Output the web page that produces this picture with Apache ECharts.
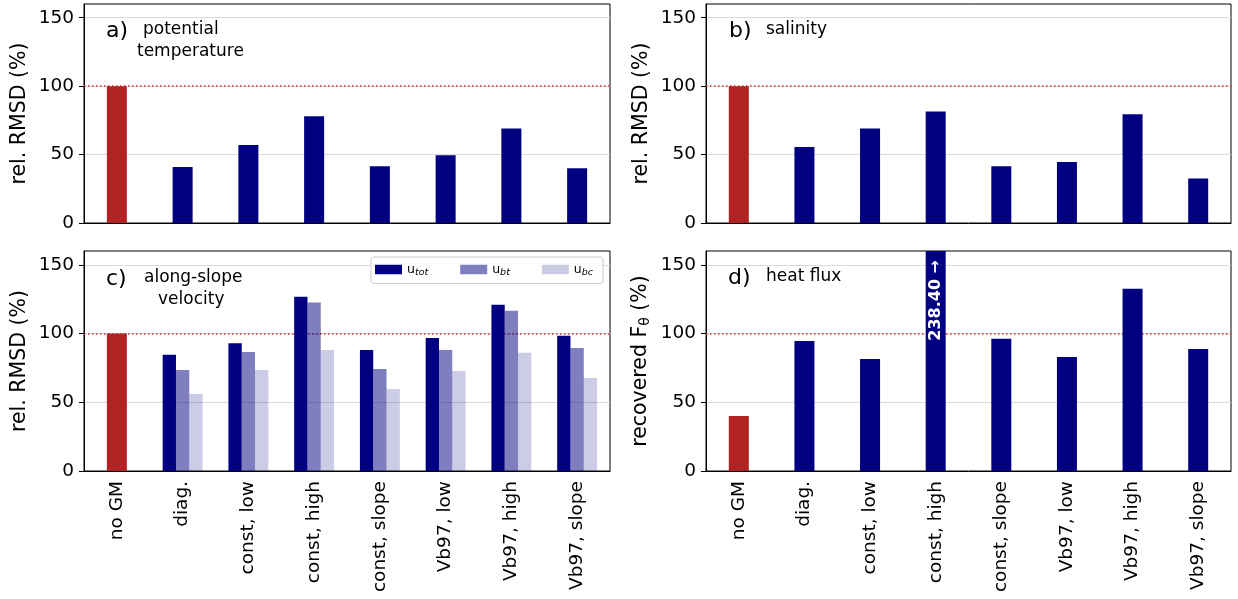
<!DOCTYPE html>
<html>
<head>
<meta charset="utf-8">
<script src="https://cdn.jsdelivr.net/npm/echarts@6/dist/echarts.min.js"></script>
<style>
  html, body { margin: 0; padding: 0; background: #fff; }
  #chart { width: 1238px; height: 599px; }
</style>
</head>
<body>
<div id="chart"></div>
<script>
// data (first entry = "no GM" reference run)
const categories = ['no GM', 'diag.', 'const, low', 'const, high', 'const, slope', 'Vb97, low', 'Vb97, high', 'Vb97, slope'];
const thetaRmsd = [100, 41, 57, 78, 41.5, 49.5, 69, 40];
const saltRmsd = [100, 55.5, 69, 81.5, 41.5, 44.5, 79.5, 32.5];
const uTot = [100, 84.5, 93, 126.8, 88, 96.8, 121, 98.3];
const uBt = [null, 73.5, 86.6, 122.6, 74.2, 88, 116.5, 89.5];
const uBc = [null, 56, 73.5, 88, 59.6, 72.7, 86, 67.6];
const heatFlux = [40, 94.6, 81.5, 238.4, 96.1, 83, 132.6, 88.8];
const yTicks = [0, 50, 100, 150];
const refValue = 100;
const yMax = 160;

const NAVY = '#000080';
const RED = '#b22222';
const FONT = 'DejaVu Sans';

const grids = [
  { left: 84, top: 4, width: 526, height: 219 },
  { left: 706, top: 4, width: 525, height: 219 },
  { left: 84, top: 251, width: 526, height: 220 },
  { left: 706, top: 251, width: 525, height: 220 }
];

const yNames = [
  'rel. RMSD (%)',
  'rel. RMSD (%)',
  'rel. RMSD (%)',
  '{t|recovered F}{s|θ}{t| (%)}'
];

// panel letters and titles
const panelTexts = [
  { text: 'a)', x: 106, y: 31, size: 22 },
  { text: 'potential', x: 143, y: 30, size: 17 },
  { text: 'temperature', x: 137, y: 52, size: 17 },
  { text: 'b)', x: 729, y: 31, size: 22 },
  { text: 'salinity', x: 766, y: 30, size: 17 },
  { text: 'c)', x: 106, y: 279, size: 22 },
  { text: 'along-slope', x: 144, y: 278, size: 17 },
  { text: 'velocity', x: 158, y: 300, size: 17 },
  { text: 'd)', x: 728, y: 278, size: 22 },
  { text: 'heat flux', x: 766, y: 277, size: 17 }
];

const refLine = {
  silent: true,
  symbol: 'none',
  z: 1,
  label: { show: false },
  lineStyle: { color: '#d62728', type: [1.5, 2.5], width: 1.5 },
  data: [{ yAxis: refValue }]
};

const xAxes = grids.map((g, i) => ({
  type: 'category',
  gridIndex: i,
  data: categories,
  axisLine: { lineStyle: { color: '#000', width: 1 } },
  axisTick: { alignWithLabel: true, length: 5, lineStyle: { color: '#000' } },
  axisLabel: { show: i >= 2, rotate: 90, interval: 0, fontSize: 18.5, color: '#000', margin: 10 }
}));
// overlay axis in panel c so the red reference bar is not grouped with the velocity bars
xAxes.push({ type: 'category', gridIndex: 2, data: categories, show: false });

const yAxes = grids.map((g, i) => ({
  type: 'value',
  gridIndex: i,
  min: 0,
  max: yMax,
  interval: 50,
  name: yNames[i],
  nameLocation: 'middle',
  nameGap: 54,
  nameTextStyle: {
    fontSize: 20.5, color: '#000',
    rich: {
      t: { fontSize: 20.5, color: '#000', lineHeight: 22 },
      s: { fontSize: 14, color: '#000', lineHeight: 12, verticalAlign: 'bottom' }
    }
  },
  axisLine: { show: true, lineStyle: { color: '#000', width: 1 } },
  axisTick: { show: true, length: 5, customValues: yTicks, lineStyle: { color: '#000' } },
  axisLabel: { customValues: yTicks, fontSize: 18.5, color: '#000', margin: 10 },
  splitLine: { show: true, lineStyle: { color: '#dadada', width: 1 } }
}));

function singleBars(values, idx) {
  return {
    type: 'bar',
    xAxisIndex: idx,
    yAxisIndex: idx,
    barWidth: 20,
    itemStyle: { color: NAVY },
    markLine: refLine,
    data: values.map((v, i) => {
      if (i === 0) return { value: v, itemStyle: { color: RED } };
      if (v > yMax) {
        return {
          value: v,
          label: {
            show: true, position: 'insideTop', rotate: 90, align: 'right', verticalAlign: 'middle',
            distance: 9, color: '#fff', fontWeight: 'bold', fontSize: 16, fontFamily: FONT,
            formatter: p => p.value.toFixed(2) + ' \u2192'
          }
        };
      }
      return v;
    })
  };
}

const series = [
  singleBars(thetaRmsd, 0),
  singleBars(saltRmsd, 1),
  {
    type: 'bar', xAxisIndex: 4, yAxisIndex: 2, barWidth: 20,
    itemStyle: { color: RED }, markLine: refLine,
    data: uTot.map((v, i) => (i === 0 ? v : null))
  },
  {
    name: 'u_tot', type: 'bar', xAxisIndex: 2, yAxisIndex: 2, barWidth: 13.3, barGap: '0%',
    itemStyle: { color: NAVY },
    data: uTot.map((v, i) => (i === 0 ? null : v))
  },
  {
    name: 'u_bt', type: 'bar', xAxisIndex: 2, yAxisIndex: 2, barWidth: 13.3, barGap: '0%',
    itemStyle: { color: 'rgba(0,0,128,0.5)' },
    data: uBt
  },
  {
    name: 'u_bc', type: 'bar', xAxisIndex: 2, yAxisIndex: 2, barWidth: 13.3, barGap: '0%',
    itemStyle: { color: 'rgba(0,0,128,0.2)' },
    data: uBc
  },
  singleBars(heatFlux, 3)
];

const chart = echarts.init(document.getElementById('chart'), null, { renderer: 'canvas' });
chart.setOption({
  animation: false,
  backgroundColor: '#fff',
  textStyle: { fontFamily: FONT },
  grid: grids.map(g => ({
    ...g, show: true, borderColor: '#000', borderWidth: 1, containLabel: false, outerBoundsMode: 'none'
  })),
  legend: {
    data: ['u_tot', 'u_bt', 'u_bc'],
    left: 371,
    top: 257,
    orient: 'horizontal',
    icon: 'rect',
    itemWidth: 27,
    itemHeight: 9.5,
    itemGap: 32,
    padding: [6, 10, 6, 4],
    backgroundColor: 'rgba(255,255,255,0.85)',
    borderColor: '#cccccc',
    borderWidth: 1,
    borderRadius: 3,
    selectedMode: false,
    formatter: name => '{u|u}{s|' + name.split('_')[1] + '}',
    textStyle: {
      rich: {
        u: { fontSize: 12.5, color: '#000', lineHeight: 16 },
        s: { fontSize: 9.5, fontStyle: 'italic', color: '#000', lineHeight: 10, verticalAlign: 'bottom' }
      }
    }
  },
  xAxis: xAxes,
  yAxis: yAxes,
  series: series,
  graphic: panelTexts.map(t => ({
    type: 'text',
    x: t.x,
    y: t.y,
    style: { text: t.text, fontSize: t.size, fontFamily: FONT, fill: '#000', verticalAlign: 'middle' }
  }))
});
</script>
</body>
</html>
